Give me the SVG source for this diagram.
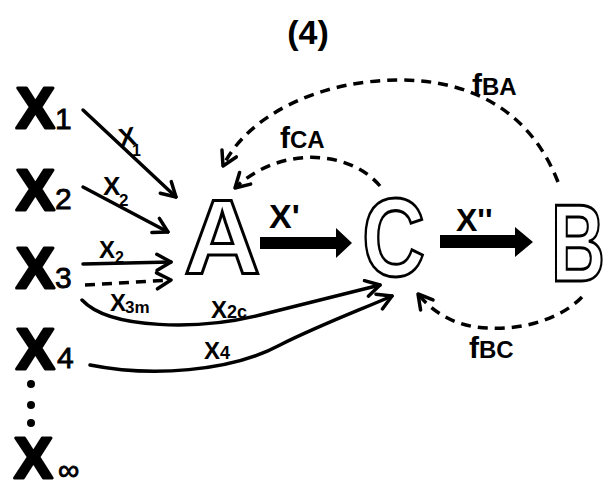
<svg xmlns="http://www.w3.org/2000/svg" width="608" height="491" viewBox="0 0 608 491">
<style>
.bigx{font-family:"Liberation Sans",Arial,sans-serif;font-weight:bold;font-size:58px;fill:#000;stroke:#000;stroke-width:3;stroke-linejoin:round}
.sub{font-family:"Liberation Sans",Arial,sans-serif;font-size:30px;fill:#000;stroke:#000;stroke-width:0.8}
.hollow{font-family:"Liberation Sans",Arial,sans-serif;font-weight:bold;fill:#fff;stroke:#000;stroke-width:3}
.lab{font-family:"Liberation Sans",Arial,sans-serif;font-weight:bold;fill:#000}
.thin{fill:none;stroke:#000;stroke-width:3.5;stroke-linecap:round}
.dash{fill:none;stroke:#000;stroke-width:3.5;stroke-dasharray:10 7}
.title{font-family:"Liberation Sans",Arial,sans-serif;font-weight:bold;font-size:34px;fill:#000}
</style>
<defs>
<marker id="chev" viewBox="0 0 20 20" refX="18" refY="10" markerWidth="20" markerHeight="20" markerUnits="userSpaceOnUse" orient="auto">
<path d="M4,2 L18,10 L4,18" fill="none" stroke="#000" stroke-width="3.5" stroke-linecap="round" stroke-linejoin="round"/>
</marker>
</defs>
<rect width="608" height="491" fill="#fff"/>
<text class="title" x="308" y="44" text-anchor="middle">(4)</text>

<g id="X1"><text class="bigx" x="16" y="128">X</text><text class="sub" x="55" y="129">1</text></g>
<g id="X2"><text class="bigx" x="16" y="210">X</text><text class="sub" x="55" y="209">2</text></g>
<g id="X3"><text class="bigx" x="16" y="288">X</text><text class="sub" x="55" y="288">3</text></g>
<g id="X4"><text class="bigx" x="16" y="369">X</text><text class="sub" x="57" y="368">4</text></g>
<g id="dots"><circle cx="31" cy="384" r="4"/><circle cx="31" cy="405" r="4"/><circle cx="31" cy="423" r="4"/></g>
<g id="Xinf"><text class="bigx" x="14" y="478">X</text><text class="sub" x="58" y="480">∞</text></g>

<g id="A"><text class="hollow" x="184" y="274" font-size="106">A</text></g>
<g id="C"><text class="hollow" transform="translate(362,276) scale(0.78,1)" font-size="112">C</text></g>
<g id="B"><text class="hollow" transform="translate(551,281) scale(0.68,1)" font-size="110">B</text></g>

<g id="connectors">
<path class="thin" d="M83,110 L176,197" marker-end="url(#chev)"/>
<path class="thin" d="M83,187 L168,232" marker-end="url(#chev)"/>
<path class="thin" d="M83,264 L171,262" marker-end="url(#chev)"/>
<path class="dash" d="M85,285 L171,280" marker-end="url(#chev)"/>
<path class="thin" d="M82,300 C110,330 200,330 260,315 C300,305 340,295 380,285" marker-end="url(#chev)"/>
<path class="thin" d="M90,365 C150,377 230,372 280,345 C320,325 360,310 392,296" marker-end="url(#chev)"/>
<path d="M260,237 L336,237 L336,228 L352,243 L336,258 L336,249 L260,249 Z" fill="#000"/>
<path d="M440,235 L515,235 L515,227 L533,242 L515,257 L515,248 L440,248 Z" fill="#000"/>
<path class="dash" d="M558,182 C530,110 470,80 400,80 C320,80 248,115 223,166" marker-end="url(#chev)"/>
<path class="dash" d="M380,186 C350,150 280,145 235,188" marker-end="url(#chev)"/>
<path class="dash" d="M582,297 C560,320 520,330 490,328 C460,328 435,315 418,294" marker-end="url(#chev)"/>
</g>

<g id="labels">
<text class="lab" x="118" y="145" font-size="26" transform="rotate(-10 132 133)">X</text><text class="lab" x="132" y="156" font-size="16">1</text>
<text class="lab" x="103" y="195" font-size="26">X</text><text class="lab" x="119" y="206" font-size="17">2</text>
<text class="lab" x="99" y="258" font-size="24">X</text><text class="lab" x="115" y="263" font-size="16">2</text>
<text class="lab" x="110" y="311" font-size="24">X</text><text class="lab" x="125" y="313" font-size="17">3m</text>
<text class="lab" x="211" y="318" font-size="24">X</text><text class="lab" x="227" y="318" font-size="18">2c</text>
<text class="lab" x="204" y="359" font-size="24">X</text><text class="lab" x="220" y="359" font-size="18">4</text>
<text class="lab" x="269" y="228" font-size="34">X'</text>
<text class="lab" x="456" y="231" font-size="32">X''</text>
<text class="lab" x="472" y="95" font-size="30">f<tspan font-size="24">BA</tspan></text>
<text class="lab" x="280" y="148" font-size="30">f<tspan font-size="24">CA</tspan></text>
<text class="lab" x="469" y="358" font-size="30">f<tspan font-size="24">BC</tspan></text>
</g>
</svg>
